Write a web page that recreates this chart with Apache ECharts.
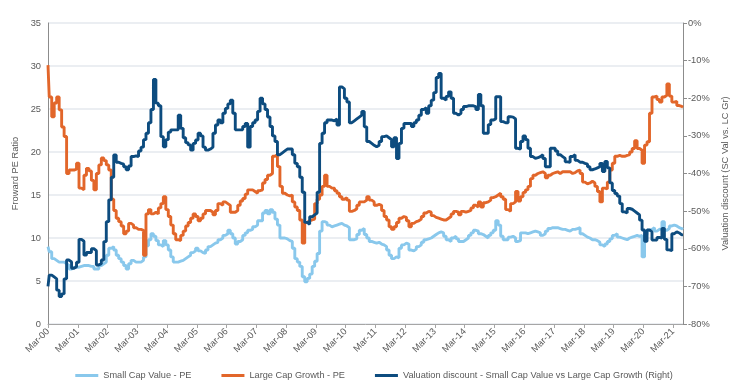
<!DOCTYPE html>
<html><head><meta charset="utf-8">
<script src="https://cdn.jsdelivr.net/npm/echarts@6/dist/echarts.min.js"></script>
<style>html,body{margin:0;padding:0;background:#fff}#c{width:748px;height:391px}</style>
</head><body><div id="c"></div>
<script>
// Monthly observations from Mar-00 to Jul-21
const startYear = 2000, startMonth = 2; // March (0-based)
const tickLabels = ["Mar-00","Mar-01","Mar-02","Mar-03","Mar-04","Mar-05","Mar-06","Mar-07","Mar-08","Mar-09","Mar-10","Mar-11","Mar-12","Mar-13","Mar-14","Mar-15","Mar-16","Mar-17","Mar-18","Mar-19","Mar-20","Mar-21"];

const smallCapValuePE = [
9.0,8.4,7.6,7.4,7.2,7.2,7.2,7.0,6.8,6.4,
6.6,6.6,6.6,6.7,6.8,6.8,6.8,6.7,6.7,6.4,
6.4,6.8,7.0,7.2,8.0,8.8,9.0,8.6,8.0,7.6,
7.2,6.8,6.4,7.0,7.4,7.2,7.2,7.2,7.4,7.8,
9.1,9.8,10.5,10.2,9.7,9.2,9.0,9.7,9.2,8.6,
7.8,7.2,7.2,7.3,7.4,7.6,7.8,8.0,8.3,8.5,
8.8,8.5,8.3,8.2,8.6,9.0,9.2,9.4,9.5,9.8,
10.0,10.3,10.5,10.9,10.5,10.0,9.3,9.6,9.8,10.3,
10.6,10.9,11.0,11.3,11.5,12.0,12.0,12.9,13.2,12.8,
13.3,13.0,12.2,11.5,10.0,10.0,9.9,9.7,9.6,8.8,
7.6,7.2,6.7,5.5,4.9,5.3,5.8,6.7,7.3,8.2,
10.8,11.9,11.8,11.5,11.3,11.4,11.5,11.6,11.7,11.5,
11.4,11.2,9.8,9.8,9.9,10.4,10.9,11.1,10.4,10.0,
9.6,9.5,9.4,9.5,9.3,9.2,9.0,8.6,8.0,7.6,
7.8,7.7,8.8,9.2,9.4,9.3,8.6,8.5,8.7,9.0,
9.2,9.5,9.8,9.9,10.0,10.2,10.4,10.6,10.7,10.6,
10.2,9.8,9.6,10.0,10.2,9.9,9.6,9.6,9.8,10.0,
10.3,10.6,10.9,10.8,10.5,10.4,10.2,10.0,10.3,10.6,
10.9,12.0,11.5,10.2,9.8,9.8,10.1,10.2,10.0,9.6,
9.7,10.6,10.6,10.5,10.6,10.7,10.8,10.7,10.6,10.3,
10.5,10.8,11.1,11.2,11.2,11.2,11.1,11.0,11.0,10.9,
10.8,11.0,11.0,11.1,11.2,10.5,10.3,10.1,10.0,9.8,
9.8,9.7,9.5,9.2,9.0,9.3,9.6,9.9,10.3,10.5,
10.1,10.0,9.9,9.8,10.0,10.1,10.2,10.3,10.2,10.3,
7.8,10.4,10.9,11.0,11.2,10.8,11.0,11.1,11.9,10.9,
11.1,11.4,11.5,11.4,11.2,11.1,11.0
];

const largeCapGrowthPE = [
30.1,26.4,24.1,25.7,26.4,24.9,22.9,21.8,17.5,17.9,
17.9,18.0,18.7,15.8,15.6,17.3,18.1,17.8,16.7,15.6,
17.5,18.5,19.3,19.0,18.5,17.9,14.5,13.2,12.3,11.9,
11.4,10.5,10.8,11.7,11.5,11.2,11.0,11.0,10.9,8.0,
12.8,13.3,12.8,13.0,12.8,13.5,14.0,14.8,13.3,12.5,
11.5,10.5,9.8,9.7,10.3,10.8,11.4,11.8,12.3,12.8,
12.5,12.0,12.3,12.8,13.2,13.2,13.0,12.7,13.2,14.0,
13.8,14.2,14.0,13.8,13.0,13.0,13.2,13.8,14.3,14.6,
15.1,15.6,15.6,15.4,15.2,15.5,15.6,16.4,16.8,17.3,
17.5,19.5,19.7,18.3,16.0,15.2,15.0,14.9,15.0,14.2,
13.6,13.2,12.1,9.4,11.8,12.0,12.1,12.2,14.0,14.5,
15.0,16.0,17.3,16.0,15.8,15.8,15.5,15.2,14.8,14.5,
14.7,14.4,13.1,13.2,13.4,13.8,14.2,14.2,14.4,14.8,
14.4,14.2,13.8,13.9,13.8,13.2,12.5,12.1,11.3,11.0,
11.3,11.8,12.3,12.5,12.4,12.0,11.3,11.7,11.9,12.0,
12.2,12.5,12.9,13.1,13.0,12.6,12.4,12.3,12.2,12.1,
12.1,12.3,12.5,12.8,13.1,13.0,12.7,13.1,13.0,13.1,
13.2,13.5,13.8,13.6,14.2,13.6,14.1,14.2,14.4,14.7,
14.8,15.0,15.2,14.8,14.5,13.3,13.1,14.0,14.2,15.4,
14.3,14.8,15.3,15.6,16.0,16.9,17.3,17.5,17.6,17.7,
17.5,17.0,17.3,17.5,17.6,17.7,17.5,17.7,17.7,17.7,
17.7,17.5,17.6,17.8,17.9,17.5,16.5,16.3,16.4,16.6,
16.4,16.0,15.4,14.2,15.8,15.7,16.5,17.9,18.7,19.5,
19.6,19.5,19.5,19.6,19.7,20.0,20.4,21.3,20.4,20.2,
18.7,20.8,21.2,24.5,26.4,26.5,26.1,25.8,26.4,26.6,
27.9,26.5,25.8,25.9,25.4,25.3,25.2
];

const valuationDiscount = [
-70,-67,-67.5,-68,-71,-72.7,-72,-68,-63,-63.5,
-65.2,-64.8,-63.6,-57.5,-58,-61.7,-61,-61,-60,-60.5,
-64.3,-64,-63,-58.1,-52.8,-47,-41,-35.1,-37,-37.3,
-37.5,-38.2,-39,-38,-35.5,-35.3,-35.5,-34,-33,-31,
-29.3,-26.5,-23,-15,-21.3,-22,-30.2,-32.9,-31,-29,
-28.4,-28.4,-28.4,-24.5,-28,-30.5,-31.8,-32.4,-33.8,-32,
-31.1,-29.3,-30,-33,-33.8,-33.5,-33,-29.3,-27.1,-25.8,
-26.5,-24,-22.7,-21.5,-20.5,-24,-28.4,-28.4,-28.4,-27.5,
-26.7,-33,-27.5,-26.5,-25.8,-23.5,-20,-21.5,-23,-25,
-27.5,-30,-31.5,-35,-34.5,-34,-33.5,-33.5,-33.5,-35,
-37.3,-38.2,-41,-45,-53,-53.5,-51.5,-51,-50.5,-45,
-32,-29.3,-26.5,-25.8,-25.8,-26,-25.5,-27.1,-17,-17.5,
-20,-21,-26.5,-26,-25.5,-25,-24.5,-23.5,-27.6,-31.5,
-32,-32.5,-32.9,-32.5,-31.5,-30.2,-30,-30.5,-31,-32.9,
-30.5,-36,-32,-28,-26.7,-26.7,-26.7,-27.5,-26.5,-25.8,
-24.5,-23,-22.5,-24,-22,-20.5,-18.5,-14.5,-13.4,-20,
-20.5,-19.5,-18.3,-20,-24,-24.5,-24,-23,-22.2,-22,
-22,-22,-22.2,-23,-19,-22,-29.3,-29.3,-27,-25.8,
-25.5,-19.6,-19.6,-26.2,-26.5,-26.5,-24.9,-25,-25.5,-33.3,
-33.5,-31.5,-30,-31,-33.3,-35.5,-36,-35.8,-35.5,-35,
-36,-38.2,-38.2,-33.3,-33.3,-34,-35,-35.5,-36,-36.9,
-37,-35.5,-35,-36.5,-37,-37,-37.3,-37.5,-38.2,-39,
-38.8,-38.5,-38.2,-37.3,-39.5,-36.8,-38.5,-42.5,-44.5,-45.3,
-46,-48,-50.2,-50.5,-49.3,-49.5,-50,-50.5,-51,-52.4,
-55,-58,-55,-55.5,-57.7,-57.7,-57,-57.2,-54.6,-57.5,
-60.3,-60.5,-56,-55.5,-55.8,-56.3,-56.3
];

const seriesNames = ["Small Cap Value - PE","Large Cap Growth - PE","Valuation discount - Small Cap Value vs Large Cap Growth (Right)"];

const mon = ["Jan","Feb","Mar","Apr","May","Jun","Jul","Aug","Sep","Oct","Nov","Dec"];
const categories = [];
for (let i = 0; i < smallCapValuePE.length; i++) {
  const t = startMonth + i;
  const y = startYear + Math.floor(t / 12);
  categories.push(mon[t % 12] + "-" + String(y % 100).padStart(2, "0"));
}

const txt = '#595959';
const font = 'Liberation Sans, Arial, sans-serif';
const fs = 9.3;
const chart = echarts.init(document.getElementById('c'), null, {renderer: 'canvas'});
chart.setOption({
  animation: false,
  textStyle: {fontFamily: font},
  grid: {left: 48, right: 65, top: 23, bottom: 67, containLabel: false},
  legend: {
    bottom: 6, left: 'center', itemWidth: 23, itemHeight: 3, itemGap: 30, icon: 'rect',
    textStyle: {color: txt, fontSize: 9.2, fontFamily: font},
    data: seriesNames
  },
  xAxis: {
    type: 'category', data: categories, boundaryGap: false,
    axisLine: {lineStyle: {color: '#a6a6a6', width: 1}},
    axisTick: {show: true, length: 4, lineStyle: {color: '#a6a6a6'},
      interval: (i, v) => tickLabels.indexOf(v) >= 0},
    axisLabel: {color: txt, fontSize: fs, rotate: 45, margin: 6,
      interval: (i, v) => tickLabels.indexOf(v) >= 0},
    splitLine: {show: false}
  },
  yAxis: [{
    type: 'value', min: 0, max: 35, interval: 5,
    name: 'Froward PE Ratio', nameLocation: 'middle', nameGap: 26, nameRotate: 90,
    nameTextStyle: {color: txt, fontSize: fs},
    axisLine: {show: true, lineStyle: {color: '#8c8c8c', width: 1}},
    axisTick: {show: false},
    axisLabel: {color: txt, fontSize: fs, margin: 7},
    splitLine: {show: true, lineStyle: {color: '#e4e8ee', width: 1.5}}
  }, {
    type: 'value', min: -80, max: 0, interval: 10, position: 'right',
    name: 'Valuation discount (SC Val vs. LC Gr)', nameLocation: 'middle', nameGap: 35, nameRotate: 90,
    nameTextStyle: {color: txt, fontSize: fs},
    axisLine: {show: true, lineStyle: {color: '#8c8c8c', width: 1}},
    axisTick: {show: true, inside: false, length: 4, lineStyle: {color: '#8c8c8c'}},
    axisLabel: {color: txt, fontSize: fs, margin: 5, formatter: v => v + '%'},
    splitLine: {show: false}
  }],
  series: [{
    name: seriesNames[0], type: 'line', yAxisIndex: 0, data: smallCapValuePE,
    step: 'middle', showSymbol: false, symbol: 'none',
    lineStyle: {color: '#89c8ec', width: 2.9}, itemStyle: {color: '#89c8ec'}, z: 2
  }, {
    name: seriesNames[1], type: 'line', yAxisIndex: 0, data: largeCapGrowthPE,
    step: 'middle', showSymbol: false, symbol: 'none',
    lineStyle: {color: '#e2662a', width: 2.9}, itemStyle: {color: '#e2662a'}, z: 3
  }, {
    name: seriesNames[2], type: 'line', yAxisIndex: 1, data: valuationDiscount,
    step: 'middle', showSymbol: false, symbol: 'none',
    lineStyle: {color: '#0d4c7f', width: 2.9}, itemStyle: {color: '#0d4c7f'}, z: 4
  }]
});
</script></body></html>
